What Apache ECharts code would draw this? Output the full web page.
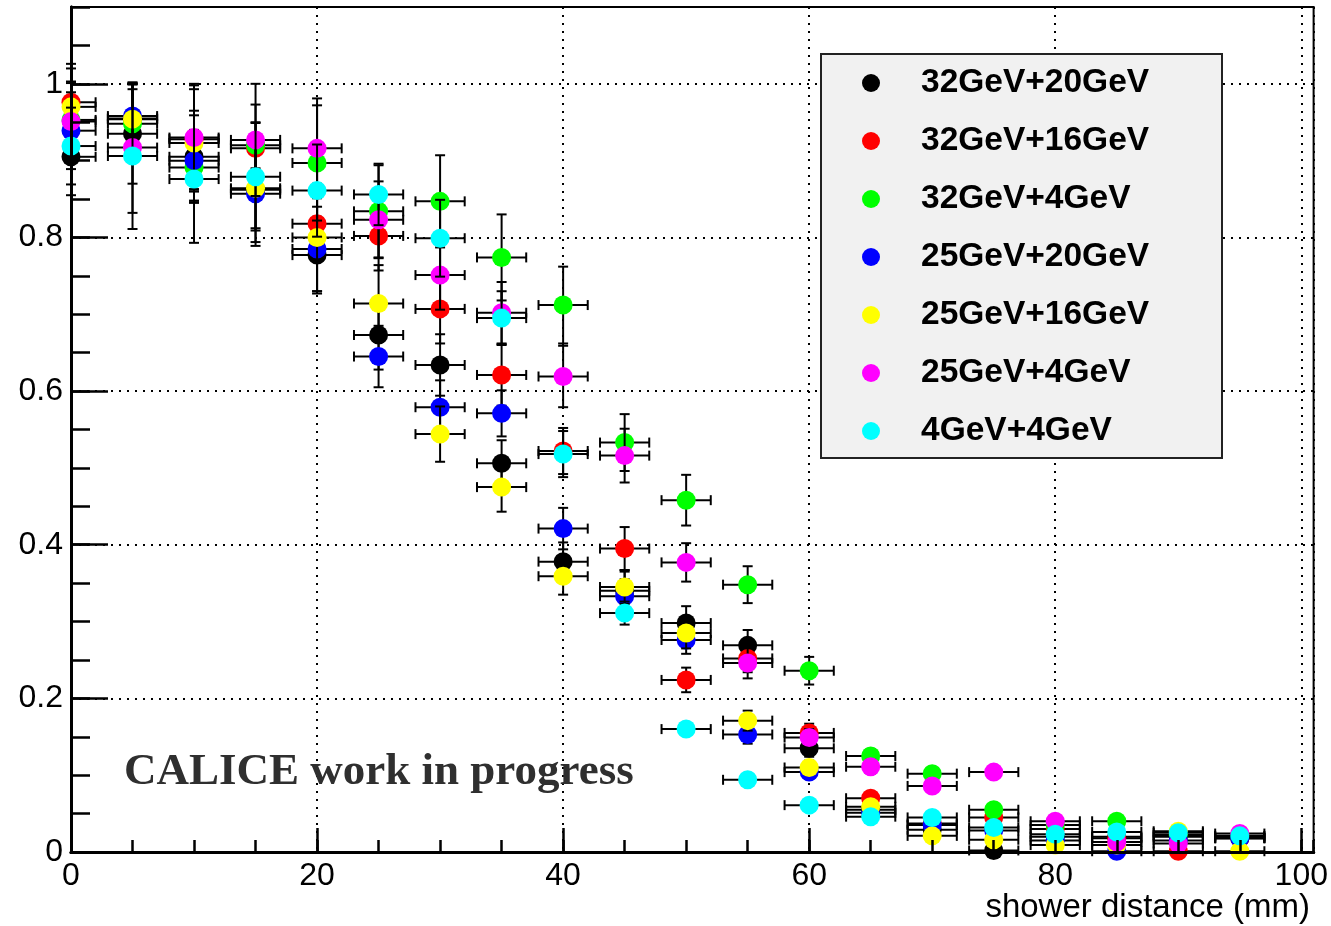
<!DOCTYPE html>
<html>
<head>
<meta charset="utf-8">
<title>Shower distance</title>
<script src="https://cdn.jsdelivr.net/npm/echarts@6.0.0/dist/echarts.min.js"></script>
<style>
  html, body { margin: 0; padding: 0; background: #ffffff; }
  #chart { width: 1331px; height: 926px; }
</style>
</head>
<body>
<div id="chart"></div>
<script>
// shower distance (mm), one bin every 5 mm
const distances = [0, 5, 10, 15, 20, 25, 30, 35, 40, 45, 50, 55, 60, 65, 70, 75, 80, 85, 90, 95];
// half bin width drawn as horizontal error
const xErr = 2;

const seriesNames = ['32GeV+20GeV', '32GeV+16GeV', '32GeV+4GeV', '25GeV+20GeV', '25GeV+16GeV', '25GeV+4GeV', '4GeV+4GeV'];

const e32_20 = [0.905, 0.935, 0.905, 0.862, 0.777, 0.673, 0.634, 0.506, 0.378, 0.340, 0.298, 0.269, 0.135, 0.055, 0.029, 0.002, 0.020, 0.020, 0.020, 0.018];
const e32_16 = [0.976, 0.955, 0.928, 0.916, 0.818, 0.802, 0.707, 0.621, 0.522, 0.395, 0.224, 0.252, 0.155, 0.070, 0.037, 0.045, 0.030, 0.018, 0.001, 0.018];
const e32_4  = [0.953, 0.948, 0.891, 0.920, 0.897, 0.834, 0.847, 0.774, 0.712, 0.533, 0.458, 0.348, 0.236, 0.125, 0.102, 0.055, 0.035, 0.040, 0.022, 0.020];
const e25_20 = [0.939, 0.958, 0.900, 0.857, 0.785, 0.645, 0.579, 0.571, 0.421, 0.333, 0.276, 0.153, 0.104, 0.051, 0.035, 0.028, 0.015, 0.001, 0.015, 0.018];
const e25_16 = [0.970, 0.954, 0.923, 0.864, 0.800, 0.714, 0.544, 0.475, 0.359, 0.345, 0.285, 0.171, 0.110, 0.059, 0.021, 0.016, 0.009, 0.009, 0.027, 0.001];
const e25_4  = [0.951, 0.917, 0.930, 0.927, 0.916, 0.823, 0.751, 0.702, 0.619, 0.516, 0.377, 0.246, 0.149, 0.111, 0.086, 0.104, 0.040, 0.013, 0.011, 0.024];
const e4_4   = [0.919, 0.906, 0.876, 0.879, 0.861, 0.856, 0.799, 0.695, 0.518, 0.311, 0.160, 0.094, 0.061, 0.046, 0.045, 0.032, 0.023, 0.026, 0.025, 0.021];

// statistical uncertainties (vertical error bars)
const err32_20 = [0.050, 0.065, 0.060, 0.050, 0.050, 0.045, 0.040, 0.030, 0.025, 0.025, 0.022, 0.020, 0.011, 0.007, 0.006, 0.003, 0.005, 0.005, 0.004, 0.004];
const err32_16 = [0.050, 0.045, 0.065, 0.057, 0.050, 0.045, 0.045, 0.040, 0.030, 0.028, 0.016, 0.018, 0.012, 0.008, 0.006, 0.006, 0.005, 0.004, 0.003, 0.004];
const err32_4  = [0.050, 0.045, 0.045, 0.030, 0.075, 0.060, 0.060, 0.056, 0.050, 0.037, 0.033, 0.024, 0.018, 0.009, 0.008, 0.007, 0.005, 0.005, 0.004, 0.004];
const err25_20 = [0.050, 0.042, 0.040, 0.068, 0.055, 0.040, 0.035, 0.030, 0.027, 0.022, 0.018, 0.012, 0.009, 0.006, 0.005, 0.005, 0.004, 0.003, 0.004, 0.004];
const err25_16 = [0.050, 0.045, 0.075, 0.070, 0.070, 0.050, 0.036, 0.032, 0.024, 0.022, 0.020, 0.013, 0.009, 0.007, 0.005, 0.004, 0.003, 0.003, 0.004, 0.002];
const err25_4  = [0.050, 0.085, 0.070, 0.073, 0.065, 0.050, 0.045, 0.040, 0.040, 0.035, 0.025, 0.020, 0.011, 0.009, 0.008, 0.008, 0.005, 0.004, 0.003, 0.004];
const err4_4   = [0.050, 0.095, 0.083, 0.070, 0.060, 0.040, 0.050, 0.035, 0.030, 0.015, 0.008, 0.006, 0.005, 0.005, 0.005, 0.004, 0.004, 0.004, 0.004, 0.004];

const xTickLabels = ['0', '20', '40', '60', '80', '100'];
const yTickLabels = ['0', '0.2', '0.4', '0.6', '0.8', '1'];

const seriesValues = [e32_20, e32_16, e32_4, e25_20, e25_16, e25_4, e4_4];
const seriesErrors = [err32_20, err32_16, err32_4, err25_20, err25_16, err25_4, err4_4];
const seriesColors = ['#000000', '#ff0000', '#00ff00', '#0000ff', '#ffff00', '#ff00ff', '#00ffff'];

const FONT = '"Liberation Sans", Arial, Helvetica, sans-serif';
const MARKER_R = 9.5;
const CAP = 5;

// error bars (clipped to the frame) plus a filled circle marker
function renderPoint(params, api) {
  const x = api.value(0), y = api.value(1), e = api.value(2);
  const cs = params.coordSys;
  const c = api.coord([x, y]);
  const l = api.coord([x - xErr, y]);
  const r = api.coord([x + xErr, y]);
  const t = api.coord([x, y + e]);
  const b = api.coord([x, y - e]);
  const line = { stroke: '#000', lineWidth: 2 };
  const kids = [];
  const lx = Math.max(l[0], cs.x);
  const rx = Math.min(r[0], cs.x + cs.width);
  kids.push({ type: 'line', shape: { x1: lx, y1: c[1], x2: rx, y2: c[1] }, style: line });
  if (l[0] >= cs.x) kids.push({ type: 'line', shape: { x1: l[0], y1: c[1] - CAP, x2: l[0], y2: c[1] + CAP }, style: line });
  if (r[0] <= cs.x + cs.width) kids.push({ type: 'line', shape: { x1: r[0], y1: c[1] - CAP, x2: r[0], y2: c[1] + CAP }, style: line });
  const ty = Math.max(t[1], cs.y), by = Math.min(b[1], cs.y + cs.height);
  kids.push({ type: 'line', shape: { x1: c[0], y1: ty, x2: c[0], y2: by }, style: line });
  if (t[1] >= cs.y) kids.push({ type: 'line', shape: { x1: c[0] - CAP, y1: t[1], x2: c[0] + CAP, y2: t[1] }, style: line });
  if (b[1] <= cs.y + cs.height) kids.push({ type: 'line', shape: { x1: c[0] - CAP, y1: b[1], x2: c[0] + CAP, y2: b[1] }, style: line });
  kids.push({ type: 'circle', shape: { cx: c[0], cy: c[1], r: MARKER_R }, style: { fill: api.visual('color') } });
  return { type: 'group', children: kids };
}

const series = seriesNames.map((name, i) => ({
  name: name,
  type: 'custom',
  xAxisIndex: 0,
  yAxisIndex: 0,
  renderItem: renderPoint,
  itemStyle: { color: seriesColors[i] },
  encode: { x: 0, y: 1 },
  z: 3 + i,
  data: distances.map((d, k) => [d, seriesValues[i][k], seriesErrors[i][k]])
}));

// legend box: grey panel with a marker and a bold label per data set
const LEG = { x: 821, y: 54, w: 401, h: 404, markX: 871, textX: 921, firstY: 83, step: 58 };
const legendItems = [{
  type: 'rect', z: 30,
  shape: { x: LEG.x, y: LEG.y, width: LEG.w, height: LEG.h },
  style: { fill: '#f1f1f1', stroke: '#222', lineWidth: 2 }
}];
seriesNames.forEach((name, i) => {
  const cy = LEG.firstY + LEG.step * i;
  legendItems.push({ type: 'circle', z: 31, shape: { cx: LEG.markX, cy: cy, r: 9 }, style: { fill: seriesColors[i] } });
  legendItems.push({
    type: 'text', z: 31, x: LEG.textX, y: cy,
    style: { text: name, fill: '#000', font: 'bold 33.5px ' + FONT, textVerticalAlign: 'middle', verticalAlign: 'middle' }
  });
});

const chart = echarts.init(document.getElementById('chart'), null, { renderer: 'canvas' });
chart.setOption({
  animation: false,
  backgroundColor: '#ffffff',
  grid: { left: 71, right: 15, top: 7, bottom: 74, show: true, borderColor: '#000', borderWidth: 2, backgroundColor: 'transparent', containLabel: false },
  title: {
    text: 'shower distance (mm)', right: 21, top: 891, padding: 0,
    textStyle: { fontFamily: FONT, fontSize: 33, fontWeight: 'normal', color: '#000' }
  },
  xAxis: [
    {
      type: 'value', min: 0, max: 101, interval: 20, position: 'bottom',
      axisLine: { show: true, onZero: false, lineStyle: { color: '#000', width: 3 } },
      axisTick: { show: true, inside: true, length: 24, lineStyle: { color: '#000', width: 2.5 } },
      axisLabel: {
        show: true, margin: 8, showMaxLabel: false, color: '#000', fontFamily: FONT, fontSize: 32,
        formatter: v => xTickLabels[Math.round(v / 20)] ?? ''
      },
      splitLine: { show: true, lineStyle: { color: '#000', width: 2, type: [2, 6] } }
    },
    {
      type: 'value', min: 0, max: 101, interval: 5, position: 'bottom', z: 10,
      axisLine: { show: true, onZero: false, lineStyle: { color: '#000', width: 3 } },
      axisTick: { show: true, inside: true, length: 12, lineStyle: { color: '#000', width: 2.5 } },
      axisLabel: { show: false },
      splitLine: { show: false }
    }
  ],
  yAxis: [
    {
      type: 'value', min: 0, max: 1.1, interval: 0.2, position: 'left',
      axisLine: { show: true, onZero: false, lineStyle: { color: '#000', width: 3 } },
      axisTick: { show: true, inside: true, length: 37, lineStyle: { color: '#000', width: 2.5 } },
      axisLabel: {
        show: true, margin: 8, showMaxLabel: false, color: '#000', fontFamily: FONT, fontSize: 32,
        formatter: v => yTickLabels[Math.round(v / 0.2)] ?? ''
      },
      splitLine: { show: true, lineStyle: { color: '#000', width: 2, type: [2, 6] } }
    },
    {
      type: 'value', min: 0, max: 1.1, interval: 0.05, position: 'left', z: 10,
      axisLine: { show: true, onZero: false, lineStyle: { color: '#000', width: 3 } },
      axisTick: { show: true, inside: true, length: 19, lineStyle: { color: '#000', width: 2.5 } },
      axisLabel: { show: false },
      splitLine: { show: false }
    }
  ],
  graphic: [
    {
      type: 'text', left: 124, top: 750, z: 20,
      style: { text: 'CALICE work in progress', fill: '#2f2f2f', font: 'bold 45px "Liberation Serif", "Times New Roman", serif' }
    },
    { type: 'group', children: legendItems }
  ],
  series: series
});
</script>
</body>
</html>
